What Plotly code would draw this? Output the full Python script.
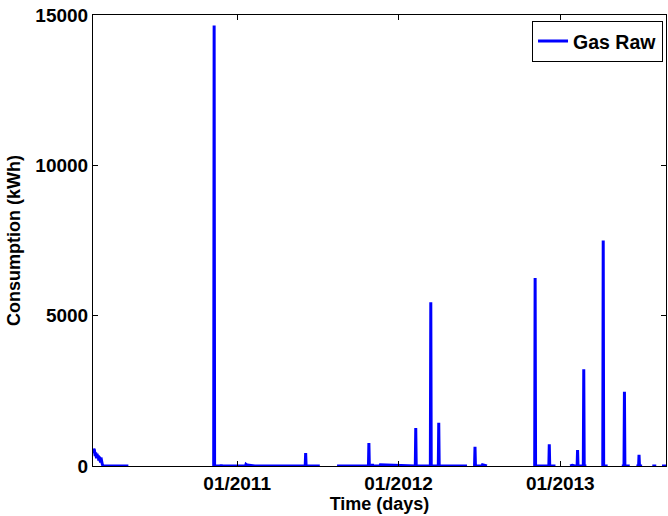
import plotly.graph_objects as go

# Daily gas consumption (kWh); None marks missing days
dates = [
    "2010-02-09", "2010-02-10", "2010-02-11", "2010-02-12", "2010-02-13", "2010-02-14",
    "2010-02-15", "2010-02-16", "2010-02-17", "2010-02-18", "2010-02-19", "2010-02-20",
    "2010-02-21", "2010-02-22", "2010-02-23", "2010-02-24", "2010-02-25", "2010-02-26",
    "2010-02-27", "2010-02-28", "2010-03-01", "2010-03-02", "2010-03-03", "2010-03-04",
    "2010-04-30", "2010-05-01",
    "2010-11-08", "2010-11-09", "2010-11-10", "2010-11-11", "2010-11-25", "2010-11-26",
    "2010-11-27", "2011-01-20", "2011-01-21", "2011-01-25", "2011-01-26", "2011-02-10",
    "2011-06-04", "2011-06-05", "2011-06-06", "2011-07-07", "2011-07-08",
    "2011-08-15", "2011-10-25", "2011-10-26", "2011-10-27", "2011-11-02", "2011-11-03",
    "2011-11-04", "2011-11-20", "2011-11-21", "2012-02-08", "2012-02-09", "2012-02-10",
    "2012-03-13", "2012-03-14", "2012-03-15", "2012-03-31", "2012-04-01", "2012-04-02",
    "2012-06-04", "2012-06-05",
    "2012-06-18", "2012-06-21", "2012-06-22", "2012-06-23", "2012-07-08", "2012-07-09",
    "2012-07-19", "2012-07-20",
    "2012-11-03", "2012-11-04", "2012-11-05", "2012-11-06", "2012-12-06", "2012-12-07",
    "2012-12-08", "2012-12-21", "2012-12-22",
    "2013-01-23", "2013-01-28", "2013-02-03", "2013-02-08", "2013-02-09", "2013-02-10",
    "2013-02-22", "2013-02-23", "2013-02-24", "2013-03-01", "2013-03-02",
    "2013-04-04", "2013-04-07", "2013-04-08", "2013-04-09", "2013-04-18", "2013-04-19",
    "2013-05-20", "2013-05-25", "2013-05-26", "2013-05-27", "2013-06-07", "2013-06-08",
    "2013-06-22", "2013-06-27", "2013-06-28", "2013-06-29", "2013-07-05", "2013-07-06",
    "2013-07-28", "2013-08-06", "2013-08-07",
    "2013-08-19", "2013-08-28",
]
values = [
    420, 530, 565, 540, 470, 330, 450, 380, 260, 400, 320, 280,
    350, 180, 310, 220, 260, 120, 280, 150, 110, 60, 20, 0,
    0, None,
    0, 0, 14650, 0, 0, 40,
    0, 0, 50, 0, 30, 0,
    0, 433, 0, 0, None,
    0, 0, 765, 0, 0, 60,
    0, 0, 40, 0, 1260, 0,
    0, 5450, 0, 0, 1440, 0,
    0, None,
    0, 0, 643, 0, 0, 40,
    0, None,
    0, 0, 6250, 0, 0, 720,
    0, 0, None,
    0, 20, 0, 0, 530, 0,
    0, 3215, 0, 0, None,
    0, 0, 7500, 0, 0, None,
    0, 0, 2470, 0, 0, None,
    0, 0, 376, 0, 0, None,
    0, 0, None,
    0, 0,
]

x_ticks = ["2011-01-01", "2012-01-01", "2013-01-01"]
x_tick_labels = ["01/2011", "01/2012", "01/2013"]
y_ticks = [0, 5000, 10000, 15000]
y_tick_labels = ["0", "5000", "10000", "15000"]

fam = "Liberation Sans, Arial, sans-serif"
title_font = dict(family=fam, size=18, color="black", weight="bold")
tick_font = dict(family=fam, size=19, color="black", weight="bold")
legend_font = dict(family=fam, size=19.5, color="black", weight="bold")

fig = go.Figure()
fig.add_trace(go.Scatter(
    x=dates, y=values, mode="lines", name="Gas Raw",
    line=dict(color="#0000FF", width=3), connectgaps=False,
))

fig.update_layout(
    width=668, height=516,
    margin=dict(l=93, r=2, t=15, b=50),
    paper_bgcolor="white", plot_bgcolor="white",
    font=title_font,
    showlegend=True,
    legend=dict(
        x=0.9948, y=0.987, xanchor="right", yanchor="top",
        bgcolor="white", bordercolor="black", borderwidth=1,
        font=legend_font,
    ),
    xaxis=dict(
        range=["2010-02-09", "2013-08-28"],
        tickmode="array", tickvals=x_ticks, ticktext=x_tick_labels,
        ticks="inside", ticklen=5, tickcolor="black", tickfont=tick_font,
        showline=True, linecolor="black", linewidth=1, mirror="ticks",
        showgrid=False, zeroline=False,
        title=dict(text="Time (days)", standoff=3, font=title_font),
    ),
    yaxis=dict(
        range=[0, 15000],
        tickmode="array", tickvals=y_ticks, ticktext=y_tick_labels,
        ticks="inside", ticklen=5, tickcolor="black", tickfont=tick_font,
        showline=True, linecolor="black", linewidth=1, mirror="ticks",
        showgrid=False, zeroline=False,
        title=dict(text="Consumption (kWh)", standoff=10, font=title_font),
    ),
)

fig.write_html("out.html")
